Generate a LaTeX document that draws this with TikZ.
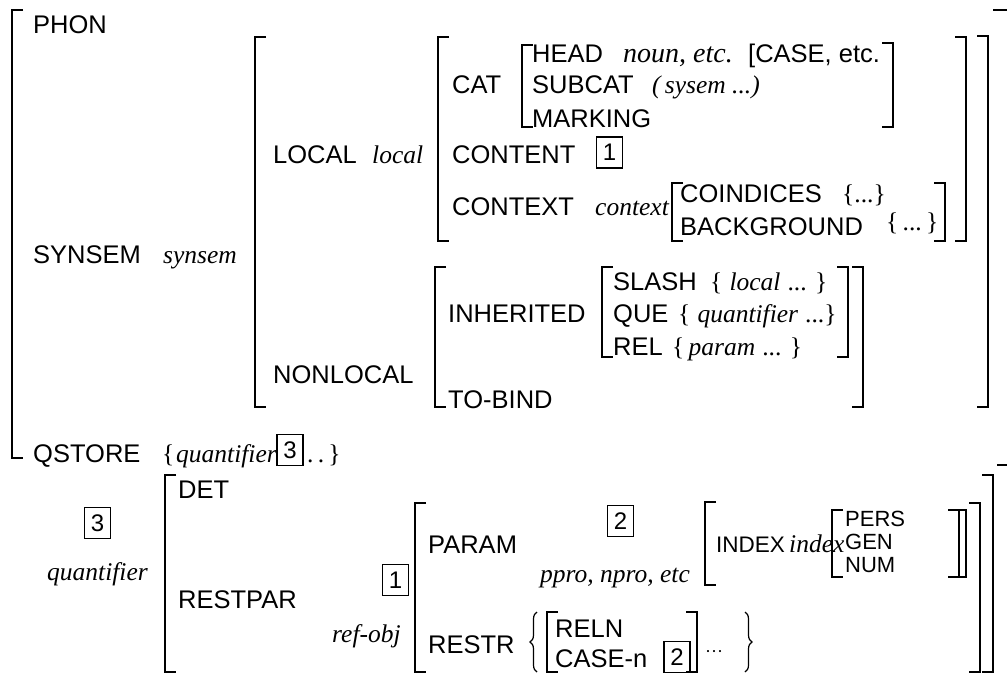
\documentclass[tikz,border=0pt]{standalone}
\usepackage{fontspec}
\setmainfont{Liberation Sans}
\newfontfamily\tms{Liberation Serif}
\usetikzlibrary{decorations.pathreplacing}
\newcommand\ty[1]{{\tms\itshape #1}}
\newcommand\tm[1]{{\tms #1}}
\tikzset{
  t/.style={inner sep=0pt, anchor=base west, font=\fontsize{25.5}{30}\selectfont},
  tb/.style={inner sep=0pt, anchor=base west, font=\fontsize{28}{32}\selectfont},
  tm/.style={inner sep=0pt, anchor=base west, font=\fontsize{22.5}{26}\selectfont},
  ts/.style={inner sep=0pt, anchor=base west, font=\fontsize{22}{26}\selectfont},
  tag/.style={draw, line width=1.3pt, inner sep=0pt, minimum width=26pt, minimum height=31pt, font=\fontsize{24}{28}\selectfont},
  br/.style={line width=1.6pt},
  brace/.style={line width=1.2pt, decorate, decoration={brace, amplitude=7pt}},
}
\newcommand\LB[3]{\draw[br] (#1+11,#2) -- (#1,#2) -- (#1,#3) -- (#1+11,#3);}
\newcommand\RB[3]{\draw[br] (#1-11,#2) -- (#1,#2) -- (#1,#3) -- (#1-11,#3);}
\begin{document}
\begin{tikzpicture}[x=1pt,y=-1pt]
\useasboundingbox (0,0) rectangle (1007,675);
% ---------- top AVM ----------
\LB{12}{10}{458}
\draw[br] (993,10) -- (1007,10);
\node[t] (phon) at (33,33) {PHON};
\node[t] (synsem) at (33,263) {SYNSEM};
\node[t] (synsemT) at (163,263) {\ty{synsem}};
\node[t] (qstore) at (33,462) {QSTORE};
\node[t] (qlb) at (162,462) {\tm{\{}};
\node[t] (qq) at (176,462) {\ty{quantifier}};
\node[tag] (q3) at (290,450) {3};
\node[t] (qdots) at (307,462) {\tm{.\,.\,\}}};
% synsem value
\LB{255}{37}{407}
\RB{988}{36}{407}
\node[t] (local) at (273,163) {LOCAL};
\node[t] (localT) at (372,163) {\ty{local}};
\node[t] (nonlocal) at (273,383) {NONLOCAL};
% local value
\LB{438}{37}{241}
\RB{966}{37}{241}
\node[t] (cat) at (452,93) {CAT};
\LB{522}{45}{127}
\RB{893}{43}{127}
\node[t] (head) at (532,62) {HEAD};
\node[tb] (noun) at (623,62) {\ty{noun, etc.}};
\node[t] (case) at (748,62) {[CASE, etc.};
\node[t] (subcat) at (532,93) {SUBCAT};
\node[t] (sysem) at (652,93) {\ty{(\,sysem ...)}};
\node[t] (marking) at (532,127) {MARKING};
\node[t] (content) at (452,163) {CONTENT};
\node[tag] (c1) at (609.5,152.5) {1};
\node[t] (context) at (452,215) {CONTEXT};
\node[t] (contextT) at (595,215) {\ty{context}};
\LB{672}{183}{241}
\RB{945}{183}{241}
\node[t] (coind) at (680,202) {COINDICES};
\node[t] (coindV) at (842,202) {\tm{\{...\}}};
\node[t] (backg) at (680,235) {BACKGROUND};
\node[t] (backgV) at (886,230) {\tm{\{\,...\,\}}};
% nonlocal value
\LB{435}{267}{407}
\RB{863}{267}{407}
\node[t] (inher) at (448,322) {INHERITED};
\LB{602}{267}{357}
\RB{848}{267}{357}
\node[t] (slash) at (613,290) {SLASH};
\node[t] (slashV) at (710,290) {\tm{\{} \ty{local} \tm{... \}}};
\node[t] (que) at (613,322) {QUE};
\node[t] (queV) at (678,322) {\tm{\{} \ty{quantifier} \tm{...\}}};
\node[t] (rel) at (613,355) {REL};
\node[t] (relV) at (672,355) {\tm{\{}\,\ty{param} \tm{... \}}};
\node[t] (tobind) at (448,408) {TO-BIND};
% ---------- bottom AVM ----------
\draw[br] (997,465) -- (1007,465);
\node[tag] (b3) at (97.5,523) {3};
\node[t] (quant) at (47,580) {\ty{quantifier}};
\LB{165}{475}{672}
\RB{993}{475}{672}
\node[t] (det) at (178,498) {DET};
\node[t] (restpar) at (178,608) {RESTPAR};
\node[tag] (b1) at (395.5,580) {1};
\node[t] (refobj) at (332,642) {\ty{ref-obj}};
\LB{415}{503}{672}
\RB{980}{503}{672}
\node[t] (param) at (428,553) {PARAM};
\node[tag] (b2) at (620.5,521) {2};
\node[t] (ppro) at (540,582) {\ty{ppro, npro, etc}};
\LB{705}{502}{585}
\RB{966}{510}{577}
\node[tm] (index) at (716,552) {INDEX};
\node[t] (indexT) at (789,552) {\ty{index}};
\LB{832}{510}{577}
\RB{959}{510}{577}
\node[ts] (pers) at (845,526) {PERS};
\node[ts] (gen) at (845,549) {GEN};
\node[ts] (num) at (845,572) {NUM};
\node[t] (restr) at (428,653) {RESTR};
\draw[brace] (537,672) -- (537,612);
\LB{547}{612}{672}
\RB{697}{612}{672}
\node[t] (reln) at (555,637) {RELN};
\node[t] (casen) at (555,667) {CASE-n};
\node[tag] (b2b) at (677,657) {2};
\node[t] (dots) at (705,657) {\tm{\fontsize{18}{20}\selectfont ···}};
\draw[brace] (745,612) -- (745,672);
\end{tikzpicture}
\end{document}
